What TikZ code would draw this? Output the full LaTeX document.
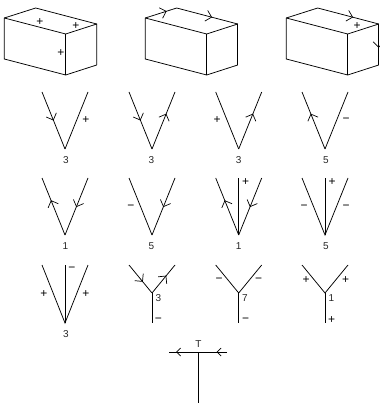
\documentclass[tikz,border=0pt]{standalone}
\usepackage{fontspec}
\setmainfont{Liberation Sans}
\usetikzlibrary{arrows.meta,decorations.markings}
\tikzset{
  edgeline/.style={draw=black, line width=0.75pt},
  sign/.style={font=\fontsize{12}{12}\selectfont, inner sep=0pt, text=black},
  count/.style={font=\fontsize{10}{10}\selectfont, inner sep=0pt, text=black!85},
  flow/.style={edgeline, postaction={decorate}, decoration={markings, mark=at position #1 with {\arrow{Straight Barb[length=5.5pt, width=11pt, line width=0.7pt]}}}},
  shortflow/.style={edgeline, postaction={decorate}, decoration={markings, mark=at position #1 with {\arrow{Straight Barb[length=4pt, width=8pt, line width=0.7pt]}}}},
}
\begin{document}
\begin{tikzpicture}[x=1pt, y=-1pt]
    \useasboundingbox (0,0) rectangle (379,403);
    % boxes
    \foreach \bx/\dx in {a/0, b/141, c/282} {
      \coordinate (\bx lt) at (4.3+\dx, 18);
      \coordinate (\bx bk) at (35.7+\dx, 8);
      \coordinate (\bx rt) at (96.7+\dx, 24);
      \coordinate (\bx ft) at (65.7+\dx, 34);
      \coordinate (\bx fb) at (65.7+\dx, 75);
      \coordinate (\bx lb) at (4.3+\dx, 59);
      \coordinate (\bx rb) at (96.7+\dx, 65);
      \draw[edgeline] (\bx lt) -- (\bx ft) -- (\bx rt);
      \draw[edgeline] (\bx ft) -- (\bx fb);
      \draw[edgeline] (\bx lt) -- (\bx lb) -- (\bx fb) -- (\bx rb);
    }
    \draw[edgeline] (alt) -- (abk) -- (art) -- (arb);
    \draw[flow=0.68] (blt) -- (bbk);
    \draw[flow=0.58] (bbk) -- (brt);
    \draw[edgeline] (brt) -- (brb);
    \draw[edgeline] (clt) -- (cbk);
    \draw[flow=0.58] (cbk) -- (crt);
    \draw[flow=0.58] (crt) -- (crb);
    \node[sign] (ap1) at (40, 22) {+};
    \node[sign] (ap2) at (76, 26) {+};
    \node[sign] (ap3) at (61, 53) {+};
    \node[sign] (cp1) at (357, 26) {+};
    % first row
    \foreach \vn/\vx/\vy/\vh in {r/65/92/57, s/152/92/57, t/238.7/92/57, u/325/92/57, v/65/178/57, w/152/178/57, x/238.7/178/57, y/325/178/57, z/65/265/58} {
      \coordinate (\vn a) at (\vx, \vy+\vh);
      \coordinate (\vn l) at (\vx-23, \vy);
      \coordinate (\vn r) at (\vx+23, \vy);
      \coordinate (\vn m) at (\vx, \vy);
    }
    \draw[flow=0.5] (rl) -- (ra);
    \draw[edgeline] (ra) -- (rr);
    \node[sign] (rp) at (86, 120.5) {+};
    \node[count] (rc) at (66, 160.5) {3};
    \draw[flow=0.5] (sl) -- (sa);
    \draw[flow=0.62] (sa) -- (sr);
    \node[count] (sc) at (151.5, 160.5) {3};
    \draw[edgeline] (tl) -- (ta);
    \draw[flow=0.62] (ta) -- (tr);
    \node[sign] (tp) at (217, 120.5) {+};
    \node[count] (tc) at (238.7, 160.5) {3};
    \draw[flow=0.62] (ua) -- (ul);
    \draw[edgeline] (ua) -- (ur);
    \node[sign] (up) at (346, 120.5) {−};
    \node[count] (uc) at (326, 160.5) {5};
    % second row
    \draw[flow=0.61] (va) -- (vl);
    \draw[flow=0.51] (vr) -- (va);
    \node[count] (vc) at (65.5, 246.5) {1};
    \draw[edgeline] (wl) -- (wa);
    \draw[flow=0.51] (wr) -- (wa);
    \node[sign] (wp) at (131, 207) {−};
    \node[count] (wc) at (151.5, 246.5) {5};
    \draw[flow=0.61] (xa) -- (xl);
    \draw[flow=0.51] (xr) -- (xa);
    \draw[edgeline] (xa) -- (xm);
    \node[sign] (xp) at (245.5, 182.5) {+};
    \node[count] (xc) at (238.7, 246.5) {1};
    \draw[edgeline] (yl) -- (ya) -- (yr);
    \draw[edgeline] (ya) -- (ym);
    \node[sign] (yp1) at (304, 207) {−};
    \node[sign] (yp2) at (346, 207) {−};
    \node[sign] (yp3) at (332, 182.5) {+};
    \node[count] (yc) at (326, 246.5) {5};
    % third row
    \draw[edgeline] (zl) -- (za) -- (zr);
    \draw[edgeline] (za) -- (zm);
    \node[sign] (zp1) at (72, 269) {−};
    \node[sign] (zp2) at (44, 294) {+};
    \node[sign] (zp3) at (86, 294) {+};
    \node[count] (zc) at (66, 334.5) {3};
    \foreach \yn/\yx in {f/152, g/238.7, h/325} {
      \coordinate (\yn j) at (\yx, 293);
      \coordinate (\yn l) at (\yx-23, 265);
      \coordinate (\yn r) at (\yx+23, 265);
      \coordinate (\yn b) at (\yx, 323);
      \draw[edgeline] (\yn j) -- (\yn b);
    }
    \draw[flow=0.6] (fl) -- (fj);
    \draw[flow=0.62] (fj) -- (fr);
    \node[count] (fc) at (158.5, 298.5) {3};
    \node[sign] (fp) at (158.5, 320) {−};
    \draw[edgeline] (gl) -- (gj) -- (gr);
    \node[sign] (gp1) at (219, 280) {−};
    \node[sign] (gp2) at (258.5, 280) {−};
    \node[count] (gc) at (245, 298.5) {7};
    \node[sign] (gp3) at (245.5, 320) {−};
    \draw[edgeline] (hl) -- (hj) -- (hr);
    \node[sign] (hp1) at (306, 280) {+};
    \node[sign] (hp2) at (345.5, 280) {+};
    \node[count] (hc) at (331.5, 298.5) {1};
    \node[sign] (hp3) at (331.5, 320) {+};
    % T junction
    \coordinate (tj) at (198.3, 352);
    \coordinate (te) at (227, 352);
    \coordinate (tw) at (169, 352);
    \coordinate (ts) at (198.3, 403);
    \node[count] (tn) at (198.5, 344) {T};
    \draw[edgeline] (tj) -- (ts);
    \draw[shortflow=0.76] (tj) -- (tw);
    \draw[shortflow=0.36] (te) -- (tj);
  \end{tikzpicture}
\end{document}
